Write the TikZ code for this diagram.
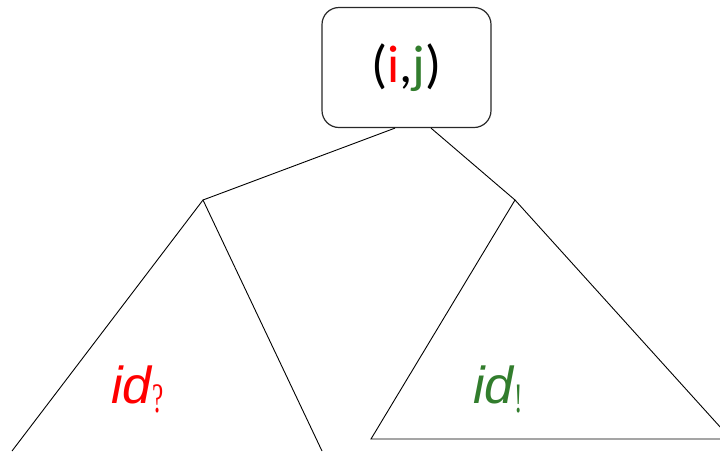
\documentclass[tikz,border=0pt]{standalone}
\usepackage{fontspec}
\setmainfont{Carlito}
\newfontfamily\idfont{Liberation Sans}
\newfontfamily\subfont{Liberation Serif}
\usetikzlibrary{calc}
\definecolor{idgreen}{RGB}{50,125,45}
\definecolor{boxgray}{RGB}{40,40,40}
\tikzset{
  rootbox/.style={draw=boxgray, line width=1.2pt, rounded corners=17pt,
    minimum width=169pt, minimum height=120pt, inner sep=0pt,
    font=\fontsize{53}{60}\selectfont},
  edge/.style={draw=black, line width=0.9pt},
  idlabel/.style={inner sep=0pt, anchor=base west,
    font=\idfont\itshape\fontsize{52}{60}\selectfont}
}
\newcommand{\subsym}[1]{\raisebox{-9pt}{\scalebox{0.6}[1]{\subfont\upshape\fontsize{42}{44}\selectfont #1}}}
\begin{document}
\begin{tikzpicture}[x=1pt,y=-1pt]
\useasboundingbox (0,0) rectangle (720,451);
\clip (0,0) rectangle (720,451);
\node[rootbox] (root) at (406.5,67.5) {(\textcolor{red}{i},\textcolor{idgreen}{j})};
\coordinate (L) at (203,200);
\coordinate (R) at (515,200);
\coordinate (LL) at (12,451);
\coordinate (LR) at (322,451);
\coordinate (RL) at (371,439);
\coordinate (RR) at (731,439);
\draw[edge] ($(root.south)+(-11.5,0)$) -- (L);
\draw[edge] ($(root.south)+(24.5,0)$) -- (R);
\draw[edge] (LL) -- (L) -- (LR);
\draw[edge] (R) -- (RR) -- (RL) -- cycle;
\node[idlabel, text=red] (idq) at (111,403) {id\kern1pt\subsym{?}};
\node[idlabel, text=idgreen] (ide) at (473,403) {id\kern1pt\subsym{!}};
\end{tikzpicture}
\end{document}
